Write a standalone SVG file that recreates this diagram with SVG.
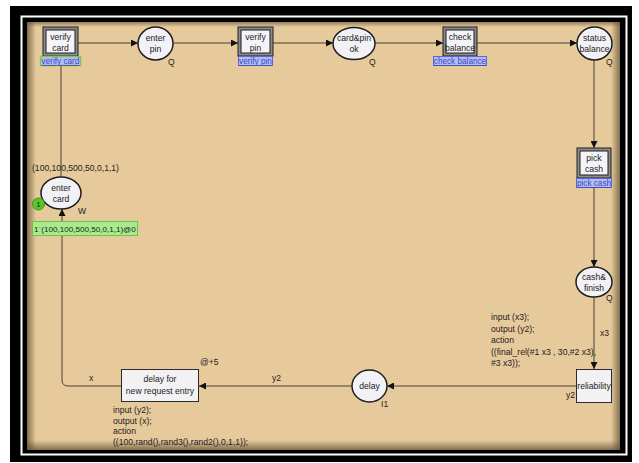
<svg xmlns="http://www.w3.org/2000/svg" width="639" height="463" viewBox="0 0 639 463">
<style>
text{font-family:"Liberation Sans",Arial,sans-serif;font-size:8.6px;fill:#222}
.c{text-anchor:middle}
.place{fill:#f1f1f6;stroke:#1e1e1e;stroke-width:1.5}
.tout{fill:#8c8c8c;stroke:#1e1e1e;stroke-width:1}
.tin{fill:#f4f4f8;stroke:#1e1e1e;stroke-width:1}
.tsim{fill:#f2f2f4;stroke:#2a2a2a;stroke-width:1}
.lbl{fill:#b3bdf4;stroke:#5b67d8;stroke-width:1}
.lt{fill:#3a48c4;font-size:8.2px;text-decoration:underline}
.arc{fill:none;stroke:#4a3f30;stroke-width:1}
</style>
<defs>
<marker id="ah" viewBox="0 0 10 10" refX="10" refY="5" markerWidth="7" markerHeight="7" orient="auto" markerUnits="userSpaceOnUse">
<path d="M0,0 L10,5 L0,10 z" fill="#111"/>
</marker>
<linearGradient id="gl" x1="0" x2="1" y1="0" y2="0"><stop offset="0" stop-color="#5a4a30" stop-opacity="0.7"/><stop offset="1" stop-color="#5a4a30" stop-opacity="0"/></linearGradient>
<linearGradient id="gr" x1="1" x2="0" y1="0" y2="0"><stop offset="0" stop-color="#5a4a30" stop-opacity="0.7"/><stop offset="1" stop-color="#5a4a30" stop-opacity="0"/></linearGradient>
<linearGradient id="gt" x1="0" x2="0" y1="0" y2="1"><stop offset="0" stop-color="#5a4a30" stop-opacity="0.6"/><stop offset="1" stop-color="#5a4a30" stop-opacity="0"/></linearGradient>
<linearGradient id="gb" x1="0" x2="0" y1="1" y2="0"><stop offset="0" stop-color="#5a4a30" stop-opacity="0.7"/><stop offset="1" stop-color="#5a4a30" stop-opacity="0"/></linearGradient>
</defs>
<rect width="639" height="463" fill="#fff"/>
<rect x="10" y="6" width="622" height="456" fill="#000"/>
<rect x="21.5" y="16.5" width="605" height="438" fill="none" stroke="#fff" stroke-width="2"/>
<rect x="27" y="22" width="593" height="428" fill="#e7ca9c"/>
<rect x="27" y="22" width="9" height="428" fill="url(#gl)"/>
<rect x="611" y="22" width="9" height="428" fill="url(#gr)"/>
<rect x="27" y="22" width="593" height="5" fill="url(#gt)"/>
<rect x="27" y="440" width="593" height="10" fill="url(#gb)"/>

<g id="connectors">
<line class="arc" x1="78" y1="43" x2="138" y2="43" marker-end="url(#ah)"/>
<line class="arc" x1="173" y1="43" x2="238" y2="43" marker-end="url(#ah)"/>
<line class="arc" x1="273" y1="43" x2="333" y2="43" marker-end="url(#ah)"/>
<line class="arc" x1="375" y1="43" x2="443" y2="43" marker-end="url(#ah)"/>
<line class="arc" x1="477" y1="43" x2="577" y2="43" marker-end="url(#ah)"/>
<line class="arc" x1="594" y1="60" x2="594" y2="148" marker-end="url(#ah)"/>
<line class="arc" x1="594" y1="187" x2="594" y2="267" marker-end="url(#ah)"/>
<line class="arc" x1="594" y1="297" x2="594" y2="369" marker-end="url(#ah)"/>
<line class="arc" x1="576" y1="386" x2="387" y2="386" marker-end="url(#ah)"/>
<line class="arc" x1="352" y1="386" x2="199" y2="386" marker-end="url(#ah)"/>
<path class="arc" d="M121,386 H68 Q62,386 62,380 V209" marker-end="url(#ah)"/>
<line class="arc" x1="61" y1="66" x2="61" y2="177"/>
<text x="600" y="336">x3</text>
<text x="566" y="398">y2</text>
<text x="272" y="381">y2</text>
<text x="89" y="381">x</text>
</g>

<g id="verify-card">
<rect class="tout" x="43" y="27" width="35" height="29"/>
<rect class="tin" x="46" y="30" width="29" height="23"/>
<text class="c" x="60.5" y="40">verify</text>
<text class="c" x="60.5" y="51">card</text>
<rect class="lbl" x="40.5" y="56.5" width="40" height="9" style="stroke:#7fc84a;stroke-width:1.5"/>
<text class="c lt" x="60.5" y="64">verify card</text>
</g>

<g id="enter-pin">
<ellipse class="place" cx="155.5" cy="43.5" rx="17.5" ry="16.5"/>
<text class="c" x="155.5" y="41">enter</text>
<text class="c" x="155.5" y="52">pin</text>
<text x="168" y="65">Q</text>
</g>

<g id="verify-pin">
<rect class="tout" x="238" y="27" width="35" height="29"/>
<rect class="tin" x="241" y="30" width="29" height="23"/>
<text class="c" x="255.5" y="40">verify</text>
<text class="c" x="255.5" y="51">pin</text>
<rect class="lbl" x="238.5" y="56.5" width="34" height="9"/>
<text class="c lt" x="255.5" y="64">verify pin</text>
</g>

<g id="card-pin-ok">
<ellipse class="place" cx="354" cy="43.5" rx="21" ry="16"/>
<text class="c" x="354" y="41">card&amp;pin</text>
<text class="c" x="354" y="52">ok</text>
<text x="369" y="65">Q</text>
</g>

<g id="check-balance">
<rect class="tout" x="443" y="27" width="34" height="29"/>
<rect class="tin" x="446" y="30" width="28" height="23"/>
<text class="c" x="460" y="40">check</text>
<text class="c" x="460" y="51">balance</text>
<rect class="lbl" x="433.5" y="56.5" width="53" height="9"/>
<text class="c lt" x="460" y="64">check balance</text>
</g>

<g id="status-balance">
<ellipse class="place" cx="594.5" cy="43.5" rx="17.5" ry="16.5"/>
<text class="c" x="594.5" y="41">status</text>
<text class="c" x="594.5" y="52">balance</text>
<text x="606" y="65">Q</text>
</g>

<g id="pick-cash">
<rect class="tout" x="577" y="148" width="34" height="30"/>
<rect class="tin" x="580" y="151" width="28" height="24"/>
<text class="c" x="594" y="161">pick</text>
<text class="c" x="594" y="172">cash</text>
<rect class="lbl" x="576.5" y="178.5" width="35" height="9"/>
<text class="c lt" x="594" y="186">pick cash</text>
</g>

<g id="cash-finish">
<ellipse class="place" cx="594" cy="282" rx="18" ry="15"/>
<text class="c" x="594" y="280">cash&amp;</text>
<text class="c" x="594" y="291">finish</text>
<text x="606" y="301">Q</text>
</g>

<g id="reliability">
<rect class="tsim" x="576.5" y="369.5" width="35" height="33"/>
<text class="c" x="594" y="389">reliability</text>
<text x="491" y="320">input (x3);</text>
<text x="491" y="331.5">output (y2);</text>
<text x="491" y="343">action</text>
<text x="491" y="354.5">((final_rel(#1 x3 , 30,#2 x3),</text>
<text x="491" y="366">#3 x3));</text>
</g>

<g id="delay">
<ellipse class="place" cx="369.5" cy="386" rx="17.5" ry="16"/>
<text class="c" x="369.5" y="389">delay</text>
<text x="381" y="407">I1</text>
</g>

<g id="delay-for-new-request-entry">
<rect class="tsim" x="121.5" y="369.5" width="77" height="32"/>
<text class="c" x="160" y="382">delay for</text>
<text class="c" x="160" y="394">new request entry</text>
<text x="200" y="365">@+5</text>
<text x="113" y="413">input (y2);</text>
<text x="113" y="424">output (x);</text>
<text x="113" y="434">action</text>
<text x="113" y="445">((100,rand(),rand3(),rand2(),0,1,1));</text>
</g>

<g id="enter-card">
<text x="32" y="171">(100,100,500,50,0,1,1)</text>
<ellipse class="place" cx="61" cy="193" rx="20" ry="16"/>
<text class="c" x="61" y="191">enter</text>
<text class="c" x="61" y="202">card</text>
<text x="78" y="214">W</text>
<circle cx="38.5" cy="204" r="6" fill="#5cc52a" stroke="#3d9a1a" stroke-width="1"/>
<text class="c" x="38.5" y="207" style="font-size:8px">1</text>
<rect x="32.5" y="221.5" width="105" height="14" fill="#a9ea8c" stroke="#6cc24a" stroke-width="1"/>
<text x="34" y="231.5" style="font-size:8.1px">1`(100,100,500,50,0,1,1)@0</text>
</g>
</svg>
